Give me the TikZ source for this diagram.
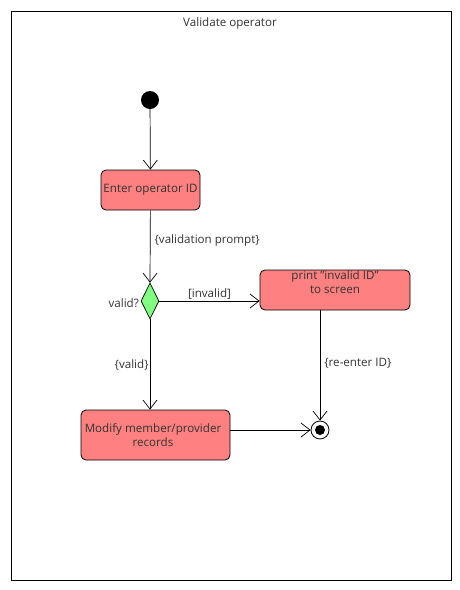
\documentclass[tikz,border=0pt]{standalone}
\usepackage{fontspec}
\setmainfont{Open Sans}
\usetikzlibrary{arrows.meta,shapes.geometric}
\definecolor{actfill}{HTML}{FF8080}
\definecolor{decfill}{HTML}{80FF80}
\begin{document}
\begin{tikzpicture}[x=1pt,y=-1pt,
  every node/.style={font=\fontsize{11.6}{14.5}\selectfont, text=black!80},
  action/.style={draw, line width=0.8pt, rounded corners=5pt, fill=actfill, inner sep=0pt},
  flow/.style={draw, line width=0.7pt, -{Straight Barb[length=9pt,width=14pt,line width=0.7pt]}},
  lbl/.style={inner sep=1pt}
]
\useasboundingbox (0,0) rectangle (460,590);
\node[draw, line width=0.9pt, minimum width=440, minimum height=569, anchor=north west, inner sep=0pt] (frame) at (11,11) {};
\node (title) at (230,23) {Validate operator};

\node[circle, fill=black, minimum size=18, inner sep=0pt] (start) at (150,100) {};
\node[action, minimum width=99, minimum height=40] (enter) at (150.5,190) {};
\node (entertxt) at (150.5,190) {Enter operator ID};
\node[diamond, draw, line width=0.7pt, fill=decfill, minimum width=18, minimum height=36, inner sep=0pt, aspect=0.5] (dec) at (150,301) {};
\node[anchor=east, inner sep=0pt] (validq) at (139,303) {valid?};
\node[action, minimum width=150, minimum height=40] (print) at (335,290) {};
\node[align=center, anchor=north, inner sep=0pt] (printtxt) at (335,270) {print \symbol{34}invalid ID\symbol{34}\\to screen};
\node[action, minimum width=149, minimum height=50] (modify) at (155.5,435) {};
\node[align=center, inner sep=0pt] (modtxt) at (153,435) {Modify member/provider\\records};
\node[circle, draw, line width=0.8pt, fill=white, minimum size=18, inner sep=0pt] (final) at (320,430) {};
\node[circle, fill=black, minimum size=10, inner sep=0pt] (finalin) at (final) {};

\draw[flow] (start) -- (enter);
\draw[flow] (enter) -- (dec.north) node[lbl, pos=0.42, anchor=west, xshift=3pt] {\{validation prompt\}};
\draw[flow] (dec.east) -- (dec.east -| print.west) node[lbl, midway, above] {[invalid]};
\draw[flow] (dec.south) -- (modify.north -| dec.south) node[lbl, midway, anchor=east, xshift=0pt, yshift=-1pt] {\{valid\}};
\draw[flow] (print.south -| final) -- (final.north) node[lbl, pos=0.48, anchor=west, xshift=3pt] {\{re-enter ID\}};
\draw[flow] (modify.east |- final) -- (final.west);
\end{tikzpicture}
\end{document}
